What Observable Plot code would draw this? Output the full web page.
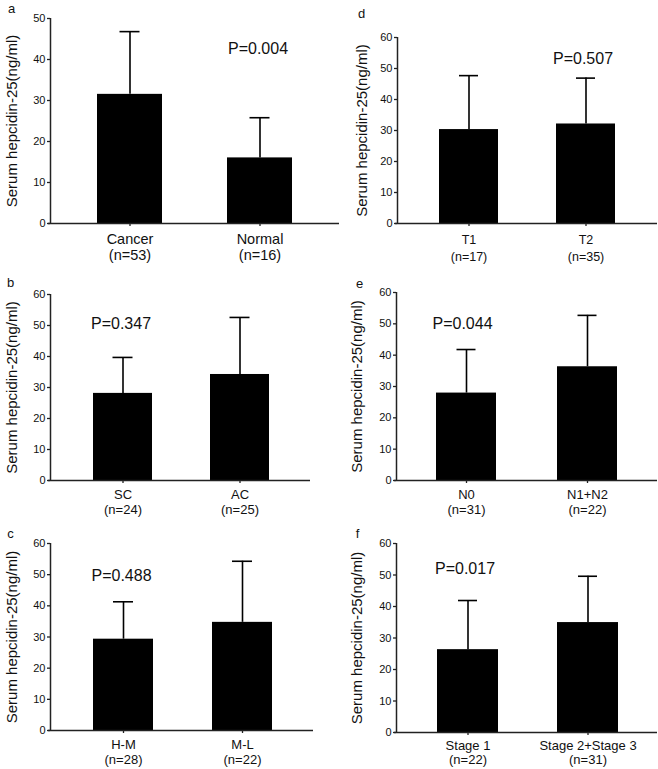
<!DOCTYPE html>
<html>
<head>
<meta charset="utf-8">
<script src="https://cdn.jsdelivr.net/npm/d3@7"></script>
<script src="https://cdn.jsdelivr.net/npm/@observablehq/plot@0.6"></script>
<style>
  html, body { margin: 0; padding: 0; background: #fff; }
  #root { position: relative; width: 658px; height: 769px; overflow: hidden; background: #fff; }
  #root svg { position: absolute; }
</style>
</head>
<body>
<div id="root"></div>
<script>
// ---------- data ----------
const yTitle = "Serum hepcidin-25(ng/ml)";
const ticks50 = [0, 10, 20, 30, 40, 50];
const ticks60 = [0, 10, 20, 30, 40, 50, 60];

// a
const catsA = ["Cancer", "Normal"];
const nA = ["(n=53)", "(n=16)"];
const meanA = [31.5, 16.0];
const sdA = [15.3, 9.8];
const pA = "P=0.004";
// b
const catsB = ["SC", "AC"];
const nB = ["(n=24)", "(n=25)"];
const meanB = [28.1, 34.2];
const sdB = [11.6, 18.4];
const pB = "P=0.347";
// c
const catsC = ["H-M", "M-L"];
const nC = ["(n=28)", "(n=22)"];
const meanC = [29.3, 34.7];
const sdC = [12.0, 19.6];
const pC = "P=0.488";
// d
const catsD = ["T1", "T2"];
const nD = ["(n=17)", "(n=35)"];
const meanD = [30.3, 32.1];
const sdD = [17.4, 14.8];
const pD = "P=0.507";
// e
const catsE = ["N0", "N1+N2"];
const nE = ["(n=31)", "(n=22)"];
const meanE = [27.9, 36.3];
const sdE = [13.9, 16.4];
const pE = "P=0.044";
// f
const catsF = ["Stage 1", "Stage 2+Stage 3"];
const nF = ["(n=22)", "(n=31)"];
const meanF = [26.3, 34.9];
const sdF = [15.6, 14.7];
const pF = "P=0.017";

// ---------- panels (data + layout) ----------
const FONT = "'Liberation Sans', Arial, Helvetica, sans-serif";

const panels = [
  {letter: "a", cats: catsA, ns: nA, means: meanA, sds: sdA, p: pA, pCat: "Normal", pY: 42.7, yMax: 50, ticks: ticks50,
   left: 0, top: 0, w: 345, h: 262, ml: 50, mt: 18, mb: 39, axisRight: 339,
   bar1Left: 97, step: 130, barW: 65, capW: 20, titleX: 12, lx: 11, ly: 8,
   labFs: 14.5, labDy: 10, labLh: 1.05, pDx: -2},
  {letter: "b", cats: catsB, ns: nB, means: meanB, sds: sdB, p: pB, pCat: "SC", pY: 50.6, yMax: 60, ticks: ticks60,
   left: 0, top: 262, w: 329, h: 254, ml: 50, mt: 32, mb: 36, axisRight: 310,
   bar1Left: 93, step: 117, barW: 59, capW: 20, titleX: 12, lx: 10, ly: 20,
   labFs: 13, labDy: 8, labLh: 1.15, pDx: -2},
  {letter: "c", cats: catsC, ns: nC, means: meanC, sds: sdC, p: pC, pCat: "H-M", pY: 49.7, yMax: 60, ticks: ticks60,
   left: 0, top: 516, w: 329, h: 253, ml: 50, mt: 27, mb: 39, axisRight: 313,
   bar1Left: 93, step: 119, barW: 60, capW: 20, titleX: 12, lx: 10, ly: 17,
   labFs: 13, labDy: 8, labLh: 1.15, pDx: -2},
  {letter: "d", cats: catsD, ns: nD, means: meanD, sds: sdD, p: pD, pCat: "T2", pY: 53.2, yMax: 60, ticks: ticks60,
   left: 329, top: 0, w: 329, h: 262, ml: 68, mt: 37, mb: 39, axisRight: 328,
   bar1Left: 110, step: 117, barW: 59, capW: 19, titleX: 33, lx: 32, ly: 13,
   labFs: 12.5, labDy: 8.5, labLh: 1.36, pDx: -3},
  {letter: "e", cats: catsE, ns: nE, means: meanE, sds: sdE, p: pE, pCat: "N0", pY: 50.1, yMax: 60, ticks: ticks60,
   left: 329, top: 262, w: 329, h: 254, ml: 67, mt: 30, mb: 36, axisRight: 328,
   bar1Left: 107, step: 121, barW: 60, capW: 19, titleX: 28, lx: 30, ly: 21,
   labFs: 13, labDy: 8, labLh: 1.15, pDx: -4},
  {letter: "f", cats: catsF, ns: nF, means: meanF, sds: sdF, p: pF, pCat: "Stage 1", pY: 52.1, yMax: 60, ticks: ticks60,
   left: 329, top: 516, w: 329, h: 253, ml: 67, mt: 27, mb: 37, axisRight: 328,
   bar1Left: 108, step: 120, barW: 61, capW: 19, titleX: 28, lx: 28, ly: 17,
   labFs: 13, labDy: 7, labLh: 1.1, pDx: -3}
];

const root = document.getElementById("root");

for (const P of panels) {
  const rows = P.cats.map((c, i) => ({cat: c, n: P.ns[i], mean: P.means[i], sd: P.sds[i]}));
  const pad = 1 - P.barW / P.step;
  const r0 = P.bar1Left - pad * P.step;
  const r1 = r0 + P.step * (2 + pad);
  const frameW = P.axisRight - P.ml;
  const capInset = (P.barW - P.capW) / 2;
  const axisColor = "#222";

  const svg = Plot.plot({
    width: P.w,
    height: P.h,
    marginLeft: P.ml,
    marginTop: P.mt,
    marginBottom: P.mb,
    marginRight: P.w - P.axisRight,
    style: {fontFamily: FONT, background: "transparent", color: "#111", overflow: "visible"},
    x: {domain: P.cats, range: [r0, r1], paddingInner: pad, paddingOuter: pad},
    y: {domain: [0, P.yMax]},
    marks: [
      Plot.barY(rows, {x: "cat", y: "mean", fill: "#000"}),
      Plot.ruleX(rows, {x: "cat", y1: "mean", y2: r => r.mean + r.sd, stroke: "#000", strokeWidth: 1.6}),
      Plot.tickY(rows, {x: "cat", y: r => r.mean + r.sd, insetLeft: capInset, insetRight: capInset, stroke: "#000", strokeWidth: 1.6}),
      Plot.ruleY([0], {stroke: axisColor, strokeWidth: 1.5, insetLeft: -2}),
      Plot.ruleX([0], {x: null, dx: -frameW / 2, stroke: axisColor, strokeWidth: 1.5}),
      Plot.axisY(P.ticks, {tickSize: 3, tickPadding: 2, fontSize: 11, label: null, stroke: axisColor, strokeWidth: 1.3}),
      Plot.axisX({tickSize: 3, tickFormat: () => "", label: null, stroke: axisColor, strokeWidth: 1.3}),
      Plot.text(rows, {x: "cat", frameAnchor: "bottom", text: r => r.cat + "\n" + r.n,
        lineAnchor: "top", dy: P.labDy, fontSize: P.labFs, lineHeight: P.labLh, fill: "#111"}),
      Plot.text([{cat: P.pCat, y: P.pY, t: P.p}], {x: "cat", y: "y", text: "t", dx: P.pDx,
        fontSize: 16, lineAnchor: "middle", fill: "#111"}),
      Plot.text([yTitle], {frameAnchor: "left", rotate: -90, dx: P.titleX - P.ml,
        textAnchor: "middle", lineAnchor: "middle", fontSize: 15, fill: "#111"}),
      Plot.text([P.letter], {frameAnchor: "top-left", dx: P.lx - P.ml, dy: P.ly - P.mt,
        textAnchor: "middle", lineAnchor: "middle", fontSize: 13, fill: "#111"})
    ]
  });
  svg.style.left = P.left + "px";
  svg.style.top = P.top + "px";
  root.appendChild(svg);
}
</script>
</body>
</html>
